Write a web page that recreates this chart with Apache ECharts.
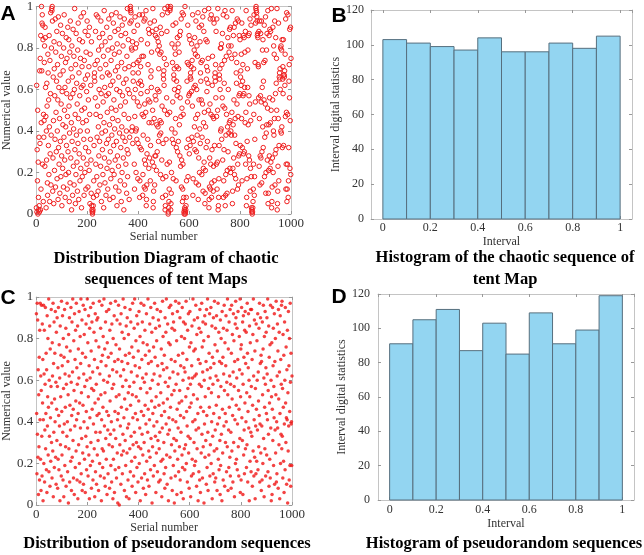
<!DOCTYPE html>
<html><head><meta charset="utf-8">
<script src="https://cdn.jsdelivr.net/npm/echarts@6/dist/echarts.min.js"></script>
<style>html,body{margin:0;padding:0;background:#fff}#c{width:644px;height:555px}</style>
</head><body><div id="c"></div>
<script>
// Panel A: tent-map chaotic sequence values (serial number = index + 1)
const tentValues = [
.03,.62,.01,.31,.16,.50,.00,.25,.08,.02,.37,.04,.01,.69,.34,.75,.02,.86,.12,.44,
1.0,.69,.92,.96,.24,.91,.84,.06,.48,.37,.45,.73,.81,.23,.90,.85,.61,.47,.03,.40,
.26,.63,.52,.15,.09,.77,.68,.33,.55,.19,.86,.42,.06,.74,.29,.58,.97,.14,.38,.80,
.99,.98,1.0,.93,.11,.27,.66,.45,.05,.83,.70,.21,.57,.36,.94,.13,.78,.49,.30,.64,
.88,.17,.40,.72,.55,.07,.95,.32,.61,.24,.82,.46,.10,.67,.35,.91,.18,.53,.76,.28,
.04,.59,.87,.22,.43,.69,.13,.80,.37,.96,.50,.26,.61,.08,.73,.42,.19,.85,.33,.58,
.75,.12,.47,.90,.30,.64,.20,.84,.52,.06,.39,.78,.15,.93,.56,.27,.70,.44,.02,.81,
.35,.66,.09,.58,.89,.23,.41,.76,.14,.60,.99,.31,.48,.05,.72,.19,.87,.38,.63,.25,
.53,.11,.79,.34,.92,.46,.07,.68,.29,.84,.57,.16,.40,.75,.22,.95,.61,.03,.50,.71,
.18,.83,.44,.62,.27,.97,.36,.09,.74,.51,.20,.88,.65,.32,.12,.78,.45,.59,.24,.93,
.40,.67,.13,.86,.55,.30,.71,.21,.90,.48,.05,.77,.36,.62,.26,.10,.83,.04,.02,.01,
.00,.01,.02,.04,.08,.16,.33,.66,.68,.64,.72,.56,.88,.24,.48,.96,.09,.18,.37,.74,
.52,.95,.11,.42,.79,.28,.60,.85,.35,.14,.70,.47,.23,.93,.58,.06,.81,.39,.66,.31,
.87,.19,.54,.76,.03,.44,.98,.27,.61,.15,.83,.40,.72,.09,.57,.34,.90,.22,.49,.68,
.12,.79,.36,.58,.94,.25,.67,.43,.07,.85,.30,.62,.17,.74,.51,.96,.38,.21,.80,.46,
.64,.08,.92,.33,.55,.19,.77,.41,.88,.26,.69,.13,.50,.97,.35,.60,.04,.82,.28,.71,
.45,.89,.23,.66,.11,.78,.39,.59,.95,.16,.52,.32,.86,.06,.73,.42,.20,.91,.57,.37,
.81,.27,.63,.02,.48,.94,.14,.70,.35,.54,.87,.24,.65,.40,.10,.76,.31,.99,.18,.60,
.29,.84,.46,.71,.07,.58,.37,.92,.99,1.0,.98,.97,.93,.80,.40,.79,.42,.83,.34,.68,
.64,.72,.56,.88,.24,.12,.47,.95,.60,.80,.40,.20,.41,.82,.36,.73,.54,.91,.17,.34,
.68,.63,.74,.52,.96,.08,.16,.32,.64,.71,.58,.84,.31,.62,.76,.48,.96,.09,.19,.38,
.76,.47,.93,.13,.26,.53,.94,.12,.24,.49,.98,.04,.07,.14,.29,.59,.82,.36,.72,.55,
.89,.22,.44,.87,.27,.54,.92,.16,.33,.66,.69,.61,.78,.44,.88,.25,.50,.99,.03,.06,
.11,.23,.46,.93,.14,.28,.57,.86,.28,.55,.89,.21,.43,.85,.30,.60,.79,.42,.83,.35,
.70,.59,.81,.38,.77,.45,.90,.19,.39,.78,.44,.87,.26,.52,.96,.08,.17,.34,.67,.65,
.69,.62,.75,.50,.99,.02,.04,.09,.18,.36,.72,.56,.88,.24,.48,.97,1.0,.00,.01,.03,
.06,.12,.25,.49,.98,.99,1.0,.02,.05,.10,.20,.41,.82,.36,.73,.54,.91,.17,.34,.67,
.65,.70,.60,.80,.39,.77,.46,.92,.16,.32,.64,.71,.57,.85,.30,.59,.82,.35,.70,.61,
.78,.43,.86,.28,.56,.88,.23,.47,.94,.13,.26,.51,.97,.06,.12,.24,.48,.96,.08,.01,
.00,.02,.03,1.0,.00,.01,.02,.04,.08,.16,.32,.64,.73,.54,.91,.18,.36,.72,.57,.86,
.29,.58,.84,.33,.66,.68,.65,.71,.59,.82,.37,.74,.52,.96,.09,.17,.35,.70,.61,.79,
.42,.85,.31,.62,.77,.46,.93,.15,.30,.60,.81,.38,.76,.48,.97,.07,.14,.27,.55,.90,
.20,.41,.83,.34,.68,.64,.73,.55,.91,.19,.37,.74,.53,.95,.11,.22,.44,.88,.25,.49,
.98,.05,.10,.21,.42,.84,.32,.65,.71,.59,.83,.35,.69,.63,.75,.50,.99,.03,.07,.13,
.27,.53,.94,.12,.24,.48,.96,.08,.15,.31,.62,.76,.47,.94,.11,.23,.46,.92,.16,.33,
.66,.68,.64,.72,.56,.88,.24,.47,.94,.12,.25,.50,.99,.02,.04,.08,.17,.33,.67,.65,
.70,.60,.80,.40,.80,.41,.82,.36,.72,.56,.87,.26,.52,.96,.08,.16,.31,.63,.74,.51,
.98,.04,.09,.19,.38,.76,.48,.95,.10,.21,.42,.85,.30,.60,.81,.39,.78,.44,.89,.22,
.45,.90,.20,.40,.81,.38,.75,.49,.98,.05,.11,.22,.43,.86,.27,.55,.90,.19,.38,.77,
.46,.92,.17,.34,.68,.63,.73,.53,.94,.12,.24,.47,.93,.14,.28,.57,.86,.29,.58,.84,
.33,.66,.69,.62,.77,.46,.92,.16,.32,.64,.72,.57,.86,.29,.58,.85,.30,.61,.78,.44,
.88,.24,.49,.98,.04,.08,.17,.35,.70,.61,.79,.43,.86,.28,.57,.87,.26,.53,.94,.11,
.22,.45,.91,.18,.03,.01,.02,.00,.01,.03,.06,.12,.24,.48,.96,.09,.18,.36,.73,.54,
.92,.99,1.0,.98,.97,.95,.93,.86,.87,.85,.72,.71,.56,.88,.23,.46,.93,.14,.28,.57,
.87,.27,.54,.93,.15,.30,.61,.79,.42,.84,.32,.64,.73,.55,.91,.18,.37,.74,.53,.95,
.10,.20,.39,.79,.43,.87,.26,.51,.98,.05,.10,.21,.43,.86,.28,.56,.89,.22,.44,.88,
.25,.50,.99,.03,.06,.13,.27,.55,.90,.20,.40,.81,.38,.77,.46,.93,.14,.29,.58,.85,
.31,.63,.75,.50,.99,.02,.05,.11,.23,.46,.92,.16,.33,.66,.68,.65,.70,.60,.80,.40,
.81,.39,.79,.42,.84,.32,.65,.71,.58,.84,.33,.67,.67,.66,.69,.62,.77,.47,.94,.12,
.24,.49,.97,.06,.12,.24,.48,.96,.08,.16,.32,.64,.72,.56,.89,.22,.45,.90,.19,.75
];
// Panel C: pseudorandom sequence values
const pseudoValues = [
.92,.44,.15,.97,.34,.89,.23,.65,.05,.53,.28,.71,.12,.84,.41,.97,.22,.62,.07,.55,
.96,.33,.14,.87,.49,.70,.02,.41,.96,.20,.63,.84,.11,.36,.58,.95,.27,.44,.73,.17,
.65,.06,.91,.38,.52,.80,.24,.47,.99,.16,.60,.33,.86,.09,.75,.42,.21,.57,.94,.30,
.49,.13,.78,.62,.26,.97,.04,.68,.35,.88,.18,.51,.73,.40,.93,.23,.59,.10,.83,.46,
.31,.90,.57,.08,.66,.22,.95,.43,.17,.77,.38,.61,.02,.86,.29,.52,.72,.14,.98,.45,
.24,.67,.91,.35,.12,.80,.56,.04,.71,.39,.94,.19,.63,.47,.28,.85,.09,.58,.76,.33,
.97,.40,.16,.69,.53,.01,.82,.27,.62,.90,.11,.48,.74,.36,.21,.95,.59,.07,.43,.88,
.23,.64,.99,.31,.46,.13,.79,.55,.05,.92,.38,.70,.18,.84,.50,.26,.97,.41,.66,.12,
.58,.86,.03,.44,.75,.29,.61,.93,.20,.49,.11,.81,.37,.68,.99,.15,.54,.32,.89,.07,
.73,.25,.48,.96,.10,.63,.40,.82,.22,.57,.94,.06,.71,.33,.87,.45,.17,.60,.28,.99,
.37,.78,.14,.52,.91,.24,.67,.03,.85,.42,.61,.19,.95,.30,.74,.08,.56,.88,.46,.21,
.64,.12,.97,.39,.55,.83,.27,.70,.04,.49,.92,.16,.35,.79,.58,.10,.89,.43,.24,.66,
.90,.31,.51,.07,.76,.44,.98,.20,.63,.35,.14,.85,.53,.69,.02,.41,.96,.27,.72,.18,
.47,.81,.26,.60,.99,.13,.38,.75,.54,.09,.88,.32,.67,.22,.93,.45,.05,.78,.59,.36,
.15,.71,.43,.94,.29,.62,.08,.84,.50,.34,.97,.19,.73,.40,.11,.87,.56,.28,.65,.03,
.80,.22,.58,.36,.91,.06,.69,.45,.17,.98,.32,.77,.52,.13,.64,.89,.25,.41,.01,.70,
.44,.96,.18,.53,.00,.75,.29,.87,.38,.62,.10,.92,.47,.24,.69,.83,.15,.57,.34,.99,
.26,.65,.42,.80,.07,.51,.95,.31,.72,.19,.60,.86,.04,.46,.25,.90,.37,.68,.12,.54,
.82,.39,.03,.73,.57,.27,.94,.16,.48,.88,.33,.64,.21,.76,.09,.53,.97,.42,.29,.71,
.14,.59,.85,.35,.99,.23,.67,.44,.06,.79,.52,.30,.91,.18,.62,.41,.87,.11,.74,.28,
.50,.93,.20,.66,.37,.81,.02,.56,.27,.97,.45,.13,.70,.34,.88,.61,.24,.78,.08,.43,
.96,.30,.59,.15,.84,.48,.72,.05,.39,.63,.92,.21,.54,.77,.12,.35,.99,.46,.68,.26,
.09,.74,.41,.87,.23,.56,.17,.95,.32,.69,.50,.83,.01,.60,.28,.44,.90,.14,.76,.38,
.63,.19,.97,.47,.71,.33,.85,.06,.52,.25,.79,.40,.94,.16,.67,.31,.58,.89,.11,.48,
.27,.86,.35,.62,.12,.93,.54,.21,.75,.43,.04,.68,.37,.98,.22,.81,.49,.65,.30,.15,
.72,.45,.08,.90,.59,.18,.83,.39,.99,.24,.66,.10,.51,.87,.34,.57,.02,.78,.42,.95,
.36,.61,.23,.77,.47,.96,.13,.70,.29,.53,.85,.07,.92,.41,.64,.19,.88,.32,.55,.01,
.84,.26,.69,.14,.98,.40,.58,.31,.79,.05,.46,.93,.22,.63,.37,.72,.16,.97,.49,.28,
.55,.90,.12,.43,.67,.35,.06,.81,.50,.24,.95,.18,.73,.60,.03,.88,.42,.66,.27,.80,
.17,.64,.87,.29,.52,.98,.20,.45,.70,.38,.11,.84,.56,.33,.92,.25,.61,.08,.76,.47,
.93,.32,.58,.04,.78,.49,.14,.67,.86,.22,.61,.40,.99,.15,.53,.74,.30,.89,.19,.62,
.41,.75,.21,.96,.36,.63,.09,.82,.27,.51,.90,.44,.02,.70,.37,.16,.85,.58,.12,.94,
.68,.06,.47,.83,.25,.57,.97,.34,.76,.13,.64,.88,.28,.45,.79,.01,.60,.39,.91,.23,
.52,.87,.31,.69,.10,.94,.43,.18,.65,.99,.35,.07,.81,.56,.24,.73,.47,.92,.14,.61,
.29,.66,.95,.20,.54,.40,.86,.03,.71,.33,.58,.15,.90,.44,.68,.26,.98,.11,.77,.36,
.85,.13,.62,.48,.91,.27,.07,.74,.39,.60,.97,.22,.52,.83,.17,.42,.69,.31,.05,.89,
.19,.57,.80,.34,.68,.02,.93,.46,.25,.71,.12,.85,.63,.38,.96,.55,.09,.78,.44,.30,
.67,.91,.40,.16,.59,.84,.28,.99,.53,.07,.75,.36,.18,.88,.47,.62,.23,.94,.14,.58,
.35,.08,.73,.96,.26,.51,.82,.43,.11,.64,.92,.30,.79,.57,.04,.69,.41,.87,.20,.98,
.90,.48,.22,.61,.85,.17,.39,.70,.93,.28,.55,.14,.46,.81,.65,.32,.99,.06,.52,.75,
.12,.77,.95,.42,.63,.31,.88,.05,.58,.91,.24,.71,.36,.15,.84,.49,.93,.27,.68,.40,
.83,.18,.54,.29,.97,.73,.11,.45,.66,.92,.37,.60,.02,.86,.52,.21,.78,.94,.35,.16,
.57,.94,.33,.70,.09,.48,.82,.26,.99,.62,.14,.41,.89,.23,.74,.03,.56,.38,.15,.87,
.46,.21,.79,.60,.36,.92,.17,.64,.50,.28,.85,.43,.97,.11,.39,.68,.90,.25,.72,.07,
.69,.38,.12,.88,.53,.20,.75,.96,.32,.61,.04,.81,.47,.27,.93,.58,.14,.66,.83,.44,
.24,.90,.63,.41,.99,.16,.55,.34,.86,.09,.71,.49,.22,.77,.13,.96,.37,.60,.02,.52,
.78,.05,.46,.95,.31,.67,.85,.19,.57,.42,.92,.10,.69,.36,.80,.25,.53,.98,.11,.40,
.15,.62,.87,.37,.74,.08,.94,.51,.29,.83,.64,.03,.44,.91,.20,.70,.34,.58,.96,.27,
.98,.33,.56,.13,.82,.47,.21,.72,.06,.39,.88,.60,.17,.95,.49,.30,.76,.42,.10,.65,
.41,.84,.01,.54,.26,.93,.38,.67,.12,.80,.45,.19,.97,.59,.09,.73,.39,.40,.19,.62
];
// Histogram bins and counts (panels B and D)
const binEdges = [0,0.1,0.2,0.3,0.4,0.5,0.6,0.7,0.8,0.9,1.0];
const tentCounts = [103,101,99,97,104,96,96,101,98,105];
const pseudoCounts = [91,105,111,87,103,85,109,91,99,119];

const SERIF = '"Liberation Serif","Times New Roman",serif';
const LABEL = '#333';
const BOX = '#c4c4c4';

const grids = [
  {left:32, top:5, width:259, height:209},
  {left:371, top:10, width:261, height:209},
  {left:32, top:297, width:260, height:208},
  {left:378, top:294, width:256, height:206}
];

function baseAxis(g, pos, extra){
  return Object.assign({
    type:'value', gridIndex:g, position:pos,
    axisLine:{show:true, onZero:false, lineStyle:{color:BOX, width:1}},
    axisTick:{show:true, inside:true, length:3, lineStyle:{color:'#999'}},
    splitLine:{show:false}
  }, extra);
}
const plain = v => String(+v.toFixed(2));
const histXLabel = {
  showMinLabel:false, showMaxLabel:false,
  formatter: v => (Math.abs(v*5 - Math.round(v*5)) < 1e-6) ? String(+v.toFixed(1)) : ''
};
const nameStyle = fs => ({fontFamily:SERIF, fontSize:fs, color:LABEL});

const xAxes = [
  baseAxis(0,'bottom',{min:0,max:1000,interval:200,name:'Serial number',nameLocation:'middle',nameGap:17,nameTextStyle:nameStyle(12),
    axisLabel:{margin:3,fontFamily:SERIF,fontSize:13,color:LABEL,formatter:plain}}),
  baseAxis(1,'bottom',{min:-0.05,max:1.05,splitNumber:5,name:'Interval',nameLocation:'middle',nameGap:17,nameTextStyle:nameStyle(12),
    axisLabel:Object.assign({margin:3,fontFamily:SERIF,fontSize:12,color:LABEL},histXLabel)}),
  baseAxis(2,'bottom',{min:0,max:1000,interval:200,name:'Serial number',nameLocation:'middle',nameGap:16,nameTextStyle:nameStyle(12),
    axisLabel:{margin:3,fontFamily:SERIF,fontSize:13,color:LABEL,formatter:plain}}),
  baseAxis(3,'bottom',{min:-0.05,max:1.05,splitNumber:5,name:'Interval',nameLocation:'middle',nameGap:18,nameTextStyle:nameStyle(12),
    axisLabel:Object.assign({margin:4,fontFamily:SERIF,fontSize:12,color:LABEL},histXLabel)}),
  baseAxis(0,'top',{min:0,max:1000,interval:200,axisLabel:{show:false}}),
  baseAxis(1,'top',{min:-0.05,max:1.05,splitNumber:5,axisLabel:{show:false}}),
  baseAxis(2,'top',{min:0,max:1000,interval:200,axisLabel:{show:false}}),
  baseAxis(3,'top',{min:-0.05,max:1.05,splitNumber:5,axisLabel:{show:false}})
];
const yAxes = [
  baseAxis(0,'left',{min:0,max:1,interval:0.2,name:'Numerical value',nameLocation:'middle',nameGap:17,nameTextStyle:nameStyle(12),
    axisLabel:{margin:3,fontFamily:SERIF,fontSize:13,color:LABEL,formatter:plain}}),
  baseAxis(1,'left',{min:0,max:120,interval:20,name:'Interval digital statistics',nameLocation:'middle',nameGap:20,nameTextStyle:nameStyle(12),
    axisLabel:{margin:7,fontFamily:SERIF,fontSize:12,color:LABEL,formatter:plain}}),
  baseAxis(2,'left',{min:0,max:1,interval:0.2,name:'Numerical value',nameLocation:'middle',nameGap:17,nameTextStyle:nameStyle(12),
    axisLabel:{margin:3,fontFamily:SERIF,fontSize:13,color:LABEL,formatter:plain}}),
  baseAxis(3,'left',{min:0,max:120,interval:20,name:'Interval digital statistics',nameLocation:'middle',nameGap:20,nameTextStyle:nameStyle(12),
    axisLabel:{margin:8,fontFamily:SERIF,fontSize:12,color:LABEL,formatter:plain}}),
  baseAxis(0,'right',{min:0,max:1,interval:0.2,axisLabel:{show:false}}),
  baseAxis(1,'right',{min:0,max:120,interval:20,axisLabel:{show:false}}),
  baseAxis(2,'right',{min:0,max:1,interval:0.2,axisLabel:{show:false}}),
  baseAxis(3,'right',{min:0,max:120,interval:20,axisLabel:{show:false}})
];

function histData(counts){
  return counts.map((c,i)=>[binEdges[i], binEdges[i+1], c]);
}
function renderBar(params, api){
  const p0 = api.coord([api.value(0), 0]);
  const p1 = api.coord([api.value(1), api.value(2)]);
  return {type:'rect', shape:{x:p0[0], y:p1[1], width:p1[0]-p0[0], height:p0[1]-p1[1]},
    style:{fill:'#93d5f1', stroke:'#566f7e', lineWidth:1}};
}

const graphics = [];
function txt(x,y,text,font){
  graphics.push({type:'text', x:x, y:y, style:{text:text, font:font, fill:'#000', align:'center', verticalAlign:'middle'}});
}
const LET = 'bold 21px "Liberation Sans",Arial,sans-serif';
const TT = 'bold 16.5px "Liberation Serif","Times New Roman",serif';
txt(8,14,'A',LET); txt(339,16,'B',LET); txt(8,298,'C',LET); txt(339,297,'D',LET);
txt(166,259,'Distribution Diagram of chaotic',TT);
txt(166,280,'sequences of tent Maps',TT);
txt(505,258,'Histogram of the chaotic sequence of',TT);
txt(505,280,'tent Map',TT);
txt(167,544,'Distribution of pseudorandom sequences',TT);
txt(504,544,'Histogram of pseudorandom sequences',TT);

const chart = echarts.init(document.getElementById('c'), null, {renderer:'canvas'});
chart.setOption({
  animation:false,
  backgroundColor:'#fff',
  grid: grids.map(g=>Object.assign({show:false, containLabel:false}, g)),
  xAxis: xAxes,
  yAxis: yAxes,
  series: [
    {type:'scatter', xAxisIndex:0, yAxisIndex:0, symbol:'circle', symbolSize:4.5,
      itemStyle:{color:'rgba(255,255,255,0)', borderColor:'#f01e1e', borderWidth:1, opacity:1},
      data: tentValues.map((v,i)=>[i+1, v])},
    {type:'custom', xAxisIndex:1, yAxisIndex:1, renderItem:renderBar, encode:{x:[0,1], y:2},
      data: histData(tentCounts)},
    {type:'scatter', xAxisIndex:2, yAxisIndex:2, symbol:'circle', symbolSize:3.5,
      itemStyle:{color:'#f01414'},
      data: pseudoValues.map((v,i)=>[i+1, v])},
    {type:'custom', xAxisIndex:3, yAxisIndex:3, renderItem:renderBar, encode:{x:[0,1], y:2},
      data: histData(pseudoCounts)}
  ],
  graphic: graphics
});
</script>
</body></html>
